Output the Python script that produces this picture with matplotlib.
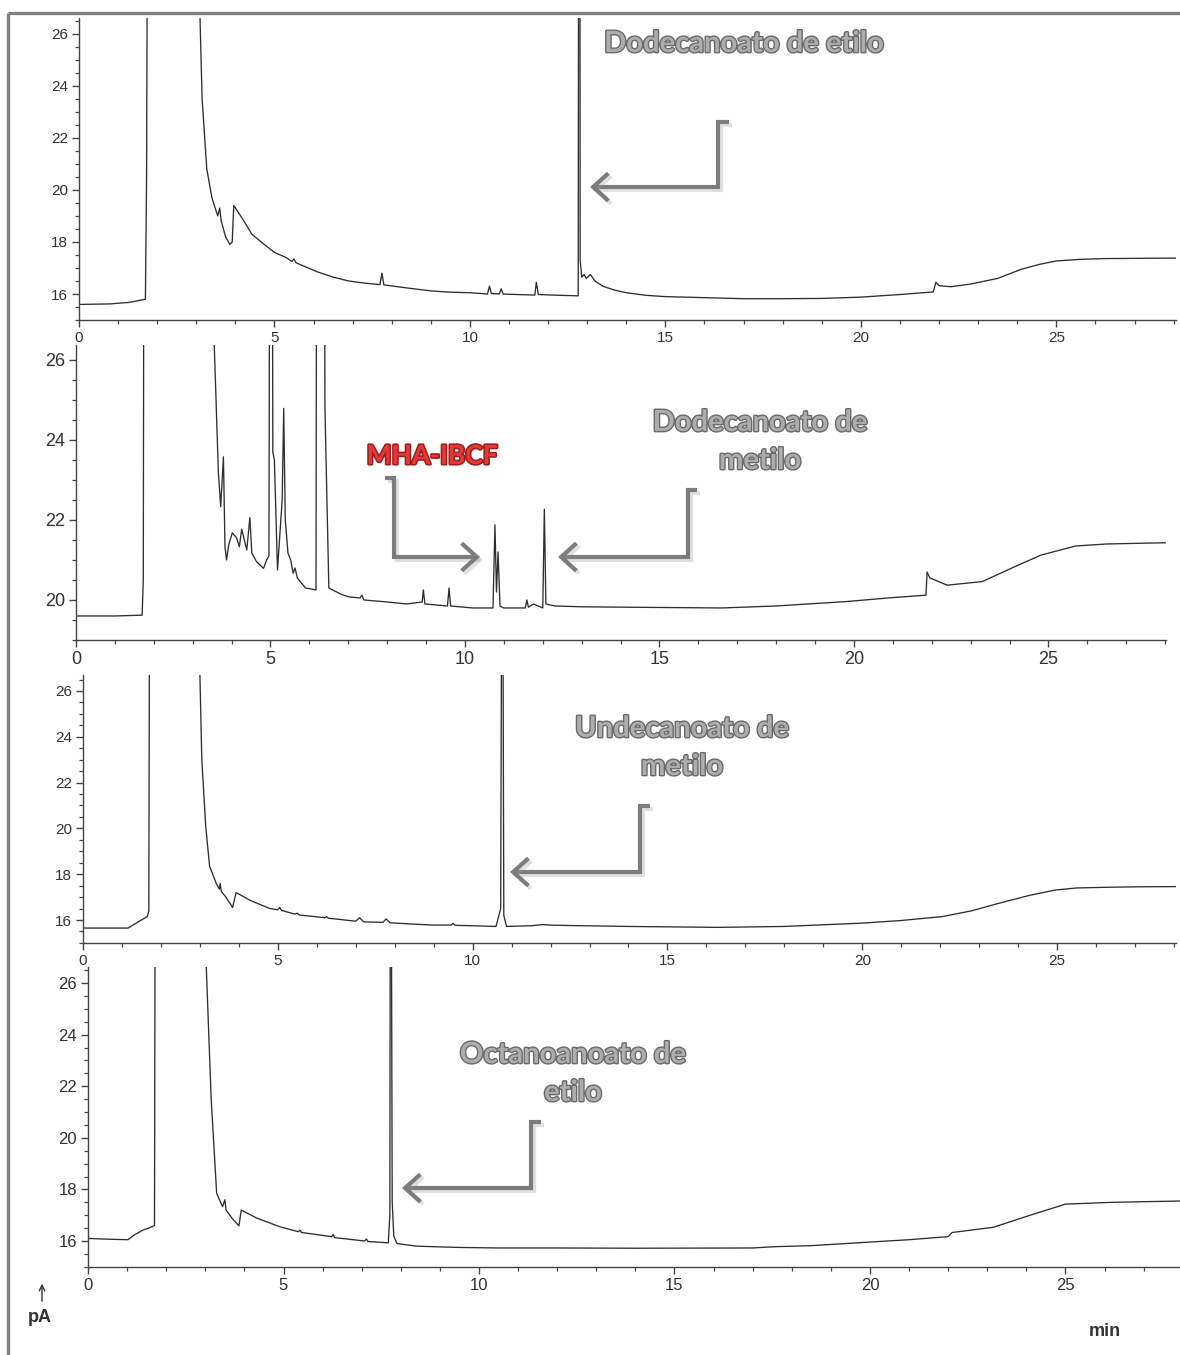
import matplotlib
matplotlib.use("Agg")
import matplotlib.pyplot as plt
import matplotlib.patheffects as pe
from matplotlib.patches import FancyArrowPatch
from matplotlib.path import Path
from matplotlib.ticker import MultipleLocator

# --- chromatogram data (min, pA); off-scale peaks clipped ---
t1 = [0, 0.8, 1.3, 1.7, 1.73, 1.75, 1.77, 3.06, 3.09, 3.15, 3.27, 3.4, 3.55, 3.6, 3.64,
      3.75, 3.86, 3.92, 3.96, 4.2, 4.42, 4.7, 5.0, 5.3, 5.45, 5.5, 5.55, 6.1, 6.5, 6.9,
      7.3, 7.7, 7.75, 7.8, 8.3, 9.0, 9.5, 10.0, 10.45, 10.5, 10.55, 10.75, 10.8, 10.85, 11.2,
      11.66, 11.7, 11.75, 12.3, 12.77, 12.8, 12.82, 12.86, 12.92, 12.98, 13.08, 13.2, 13.4, 13.7, 14.0,
      14.5, 15.0, 16.0, 17.0, 18.0, 19.0, 20.0, 21.0, 21.85, 21.92, 22.0, 22.3, 22.8, 23.5, 24.1,
      24.6, 25.0, 25.6, 26.2, 27.0, 28.06]
y1 = [15.6, 15.62, 15.68, 15.8, 20.5, 30, 60, 60, 27.0, 23.5, 20.8, 19.7, 19.0, 19.3, 18.8,
      18.2, 17.9, 18.0, 19.4, 18.85, 18.3, 17.95, 17.6, 17.4, 17.25, 17.35, 17.2, 16.85, 16.65, 16.5,
      16.42, 16.36, 16.8, 16.35, 16.25, 16.12, 16.07, 16.05, 16.0, 16.3, 16.02, 16.0, 16.2, 16.0, 15.98,
      15.96, 16.45, 15.98, 15.95, 15.93, 60, 17.3, 16.65, 16.75, 16.6, 16.75, 16.5, 16.3, 16.15, 16.05,
      15.95, 15.9, 15.86, 15.82, 15.82, 15.83, 15.88, 15.98, 16.08, 16.45, 16.32, 16.28, 16.38, 16.6, 16.95,
      17.15, 17.27, 17.33, 17.36, 17.37, 17.38]

t2 = [0, 1.0, 1.7, 1.73, 1.76, 3.5, 3.55, 3.6, 3.66, 3.72, 3.79, 3.83, 3.87, 3.93, 4.02,
      4.13, 4.2, 4.26, 4.39, 4.47, 4.52, 4.64, 4.82, 4.9, 4.96, 5.0, 5.03, 5.06, 5.1, 5.18,
      5.3, 5.34, 5.38, 5.45, 5.52, 5.58, 5.63, 5.69, 5.9, 6.17, 6.2, 6.36, 6.4, 6.5, 6.8,
      7.0, 7.3, 7.35, 7.4, 8.0, 8.5, 8.9, 8.93, 8.97, 9.55, 9.59, 9.63, 10.2, 10.72, 10.77,
      10.81, 10.85, 10.9, 11.0, 11.55, 11.59, 11.63, 11.76, 12.0, 12.04, 12.08, 12.3, 13.0, 14.0, 16.6,
      18.0, 19.8, 21.0, 21.85, 21.88, 21.95, 22.4, 23.3, 24.06, 24.8, 25.7, 26.5, 28.0]
y2 = [19.6, 19.6, 19.62, 20.5, 40, 40, 26.5, 25.0, 23.2, 22.33, 23.58, 21.33, 21.0, 21.4, 21.68,
      21.55, 21.33, 21.77, 21.25, 22.06, 21.17, 20.96, 20.79, 21.0, 21.1, 40, 40, 23.7, 23.5, 20.75,
      22.5, 24.79, 22.0, 21.17, 21.0, 20.67, 20.8, 20.55, 20.3, 20.25, 40, 40, 24.8, 20.3, 20.15,
      20.08, 20.05, 20.12, 20.0, 19.95, 19.9, 19.95, 20.25, 19.9, 19.85, 20.3, 19.85, 19.8, 19.8, 21.88,
      20.2, 21.2, 19.85, 19.8, 19.8, 20.0, 19.82, 19.9, 19.8, 22.27, 19.9, 19.85, 19.83, 19.82, 19.8,
      19.85, 19.96, 20.06, 20.12, 20.7, 20.55, 20.37, 20.46, 20.8, 21.12, 21.35, 21.4, 21.43]

t3 = [0, 1.16, 1.4, 1.65, 1.69, 1.72, 2.97, 3.0, 3.05, 3.15, 3.25, 3.42, 3.5, 3.52, 3.55,
      3.67, 3.84, 3.93, 4.3, 4.8, 5.0, 5.05, 5.1, 5.43, 5.5, 5.55, 6.22, 6.25, 6.3, 7.0,
      7.1, 7.2, 7.7, 7.78, 7.88, 8.5, 9.0, 9.45, 9.5, 9.55, 10.0, 10.6, 10.72, 10.76, 10.8,
      10.87, 11.5, 11.8, 12.0, 12.5, 14.0, 16.3, 18.0, 19.94, 21.0, 22.05, 22.8, 23.5, 24.3, 24.95,
      25.5, 26.3, 27.0, 28.05]
y3 = [15.65, 15.65, 15.9, 16.15, 16.4, 40, 40, 26.8, 23.0, 20.1, 18.35, 17.6, 17.35, 17.6, 17.25,
      17.0, 16.55, 17.2, 16.85, 16.5, 16.45, 16.55, 16.42, 16.26, 16.3, 16.22, 16.1, 16.15, 16.08, 15.95,
      16.1, 15.92, 15.9, 16.05, 15.88, 15.82, 15.78, 15.78, 15.85, 15.77, 15.75, 15.72, 16.5, 40, 16.2,
      15.72, 15.75, 15.8, 15.78, 15.76, 15.72, 15.68, 15.72, 15.86, 15.98, 16.15, 16.4, 16.73, 17.08, 17.31,
      17.4, 17.43, 17.45, 17.46]

t4 = [0, 0.5, 1.02, 1.2, 1.4, 1.6, 1.7, 1.73, 2.98, 3.02, 3.15, 3.29, 3.44, 3.5, 3.53,
      3.7, 3.86, 3.92, 4.3, 4.91, 5.38, 5.42, 5.46, 6.23, 6.27, 6.31, 7.08, 7.12, 7.16, 7.68,
      7.72, 7.74, 7.78, 7.82, 7.9, 8.4, 9.5, 10.5, 12.0, 14.0, 17.0, 17.57, 18.5, 19.9, 21.0,
      22.0, 22.1, 23.15, 24.1, 25.0, 26.2, 27.93]
y4 = [16.1, 16.07, 16.05, 16.25, 16.42, 16.53, 16.6, 40, 40, 26.8, 21.5, 17.85, 17.33, 17.6, 17.2,
      16.85, 16.59, 17.2, 16.9, 16.55, 16.36, 16.42, 16.33, 16.17, 16.25, 16.13, 16.0, 16.08, 15.98, 15.93,
      17.0, 40, 17.5, 16.2, 15.9, 15.8, 15.75, 15.73, 15.73, 15.72, 15.73, 15.78, 15.82, 15.95, 16.05,
      16.17, 16.33, 16.53, 17.0, 17.43, 17.5, 17.55]

xmax = [28.06, 28.02, 28.05, 27.93]
ylims = [(15.0, 26.6), (19.0, 26.375), (15.0, 26.7), (14.99, 26.62)]
yticks = [[16, 18, 20, 22, 24, 26], [20, 22, 24, 26], [16, 18, 20, 22, 24, 26], [16, 18, 20, 22, 24, 26]]

fig = plt.figure(figsize=(11.8, 13.55), dpi=100)

rects = [[0.0669, 0.7638, 0.9297, 0.2229],
         [0.0644, 0.5277, 0.9237, 0.2177],
         [0.0703, 0.3041, 0.9263, 0.1978],
         [0.0746, 0.0649, 0.9254, 0.2214]]
lsize = [11, 13, 11, 12]

for i, (t, y) in enumerate([(t1, y1), (t2, y2), (t3, y3), (t4, y4)]):
    ax = fig.add_axes(rects[i])
    ax.plot(t, y, color='#2e2e2e', lw=0.95)
    ax.set_xlim(0, xmax[i])
    ax.set_ylim(*ylims[i])
    for s in ['top', 'right']:
        ax.spines[s].set_visible(False)
    for s in ['left', 'bottom']:
        ax.spines[s].set_color('#444444')
        ax.spines[s].set_linewidth(1.0)
    ax.set_xticks([0, 5, 10, 15, 20, 25])
    ax.xaxis.set_minor_locator(MultipleLocator(1))
    ax.set_yticks(yticks[i])
    ax.yaxis.set_minor_locator(MultipleLocator(0.5))
    ax.tick_params(which='major', direction='out', length=5, width=1, color='#444444',
                   labelsize=lsize[i], labelcolor='#333333', pad=3)
    ax.tick_params(which='minor', direction='out', length=3, width=0.9, color='#444444')
    for lab in ax.get_xticklabels() + ax.get_yticklabels():
        lab.set_family('Liberation Sans')
    ax.patch.set_alpha(0)

# overlay in pixel coordinates for frame, arrows and labels
ov = fig.add_axes([0, 0, 1, 1])
ov.set_xlim(0, 1180)
ov.set_ylim(1355, 0)
ov.axis('off')
ov.patch.set_alpha(0)

ov.plot([8, 1180], [13, 13], color='#808080', lw=2.4, solid_capstyle='butt')
ov.plot([8, 8], [13, 1355], color='#808080', lw=2.4, solid_capstyle='butt')

arrows = [
    [(729, 122), (718, 122), (718, 187), (590, 187)],
    [(697, 490), (688, 490), (688, 557), (558, 557)],
    [(385, 478), (394, 478), (394, 557), (480, 557)],
    [(650, 806), (640, 806), (640, 872), (510, 872)],
    [(541, 1122), (531, 1122), (531, 1188), (402, 1188)],
]
for verts in arrows:
    arr = FancyArrowPatch(path=Path(verts), arrowstyle='->,head_length=0.5,head_width=0.45',
                          mutation_scale=22, color='#7c7c7c', lw=3.0, joinstyle='miter',
                          capstyle='butt')
    arr.set_path_effects([pe.SimpleLineShadow(offset=(2, -2), shadow_color='#999999', alpha=0.3),
                          pe.Normal()])
    ov.add_patch(arr)

gray_fx = [pe.Stroke(linewidth=2.0, foreground='#6a6a6a'), pe.Normal()]
labels = [("Dodecanoato de etilo", 744, 44), ("Dodecanoato de", 760, 423), ("metilo", 760, 461),
          ("Undecanoato de", 682, 729), ("metilo", 682, 767),
          ("Octanoanoato de", 573, 1055), ("etilo", 573, 1093)]
for txt, x, y in labels:
    ov.text(x, y, txt, ha='center', va='center', fontsize=21, family='Lato', weight='bold',
            color='#adadad', path_effects=gray_fx)

ov.text(432, 456, "MHA-IBCF", ha='center', va='center', fontsize=19, family='Lato', weight='bold',
        color='#e23a3a', path_effects=[pe.Stroke(linewidth=2.2, foreground='#9e1b1b'), pe.Normal()])

ov.annotate('', xy=(42, 1281), xytext=(42, 1304),
            arrowprops=dict(arrowstyle='->', color='#333333', lw=1.0))
ov.text(40, 1318, "pA", ha='center', va='center', fontsize=13, family='Liberation Sans',
        weight='bold', color='#333333')
ov.text(1105, 1332, "min", ha='center', va='center', fontsize=13, family='Liberation Sans',
        weight='bold', color='#333333')

fig.savefig('out.png', dpi=100)
